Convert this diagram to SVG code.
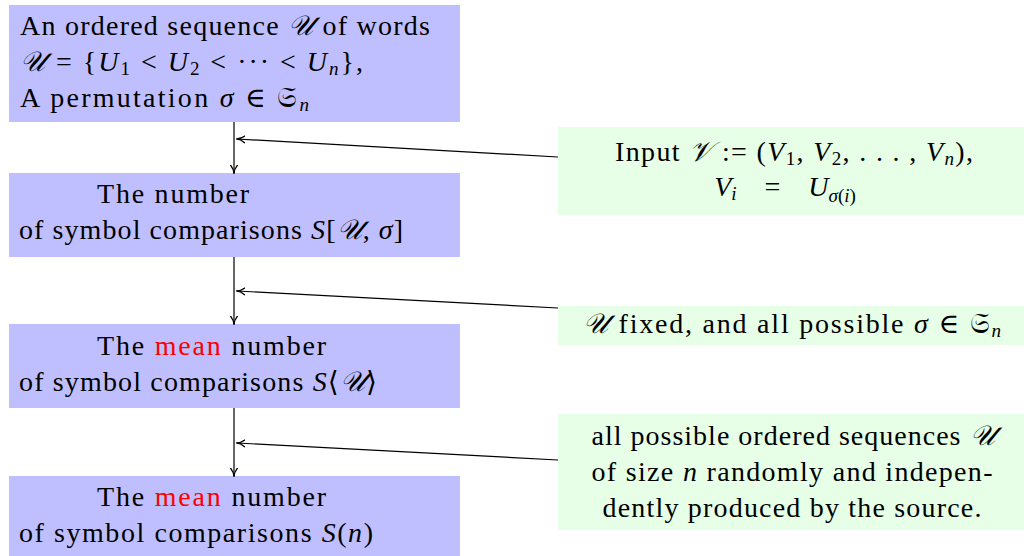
<svg xmlns="http://www.w3.org/2000/svg" width="1024" height="556" viewBox="0 0 1024 556">
<style>
.b{fill:#bfbfff}
.g{fill:#e6ffe6}
text{font-family:"Liberation Serif","DejaVu Serif",serif;font-size:28px;fill:#000}
.i{font-style:italic}
.s{font-size:19px}
.r{fill:#ff0000}
.c{text-anchor:middle}
.ln{stroke:#000;stroke-width:1.2;fill:none}
</style>
<defs>
<marker id="ah" viewBox="0 0 10 10" refX="9" refY="5" markerWidth="9" markerHeight="9" orient="auto" markerUnits="userSpaceOnUse">
<path d="M0,1 Q5,5 10,5 Q5,5 0,9" fill="none" stroke="#000" stroke-width="1.4"/>
</marker>
</defs>
<g id="n1">
<rect class="b" x="9" y="5" width="451" height="117"/>
<text x="20" y="35" textLength="410">An ordered sequence <tspan class="i">𝒰</tspan> of words</text>
<text x="20" y="71" textLength="343"><tspan class="i">𝒰</tspan> = {<tspan class="i">U</tspan><tspan class="s" dy="4">1</tspan><tspan dy="-4"> &lt; </tspan><tspan class="i">U</tspan><tspan class="s" dy="4">2</tspan><tspan dy="-4"> &lt; ··· &lt; </tspan><tspan class="i">U</tspan><tspan class="s i" dy="4">n</tspan><tspan dy="-4">},</tspan></text>
<text x="20" y="107" textLength="289">A permutation <tspan class="i">σ</tspan> ∈ 𝔖<tspan class="s i" dy="4">n</tspan></text>
</g>
<g id="n2">
<rect class="b" x="9" y="173" width="451" height="84"/>
<text x="97" y="203" textLength="152">The number</text>
<text x="19" y="239" textLength="384">of symbol comparisons <tspan class="i">S</tspan>[<tspan class="i">𝒰</tspan>, <tspan class="i">σ</tspan>]</text>
</g>
<g id="n3">
<rect class="b" x="9" y="324" width="451" height="84"/>
<text x="97" y="355" textLength="229">The <tspan class="r">mean</tspan> number</text>
<text x="19" y="391" textLength="358">of symbol comparisons <tspan class="i">S</tspan>⟨<tspan class="i">𝒰</tspan>⟩</text>
</g>
<g id="n4">
<rect class="b" x="9" y="476" width="451" height="80"/>
<text x="97" y="506" textLength="229">The <tspan class="r">mean</tspan> number</text>
<text x="19" y="542" textLength="354">of symbol comparisons <tspan class="i">S</tspan>(<tspan class="i">n</tspan>)</text>
</g>
<g id="a1">
<rect class="g" x="558" y="127" width="466" height="88"/>
<text class="c" x="794" y="161" textLength="358">Input <tspan class="i">𝒱</tspan> := (<tspan class="i">V</tspan><tspan class="s" dy="4">1</tspan><tspan dy="-4">, </tspan><tspan class="i">V</tspan><tspan class="s" dy="4">2</tspan><tspan dy="-4">, . . . , </tspan><tspan class="i">V</tspan><tspan class="s i" dy="4">n</tspan><tspan dy="-4">),</tspan></text>
<text class="c" x="785" y="196"><tspan class="i">V</tspan><tspan class="s i" dy="4">i</tspan><tspan dy="-4" xml:space="preserve">    =    </tspan><tspan class="i">U</tspan><tspan class="s" dy="6"><tspan class="i">σ</tspan>(<tspan class="i">i</tspan>)</tspan></text>
</g>
<g id="a2">
<rect class="g" x="558" y="306" width="466" height="39"/>
<text class="c" x="792" y="333" textLength="418"><tspan class="i">𝒰</tspan> fixed, and all possible <tspan class="i">σ</tspan> ∈ 𝔖<tspan class="s i" dy="4">n</tspan></text>
</g>
<g id="a3">
<rect class="g" x="558" y="414" width="466" height="116"/>
<text class="c" x="793" y="445" textLength="403">all possible ordered sequences <tspan class="i">𝒰</tspan></text>
<text class="c" x="792" y="481" textLength="401">of size <tspan class="i">n</tspan> randomly and indepen-</text>
<text class="c" x="792" y="517" textLength="379">dently produced by the source.</text>
</g>
<g id="connectors">
<line class="ln" x1="234" y1="122" x2="234" y2="173" marker-end="url(#ah)"/>
<line class="ln" x1="234" y1="257" x2="234" y2="324" marker-end="url(#ah)"/>
<line class="ln" x1="234" y1="408" x2="234" y2="476" marker-end="url(#ah)"/>
<line class="ln" x1="558" y1="157" x2="237" y2="139" marker-end="url(#ah)"/>
<line class="ln" x1="558" y1="308" x2="237" y2="291" marker-end="url(#ah)"/>
<line class="ln" x1="558" y1="460" x2="237" y2="443" marker-end="url(#ah)"/>
</g>
</svg>
